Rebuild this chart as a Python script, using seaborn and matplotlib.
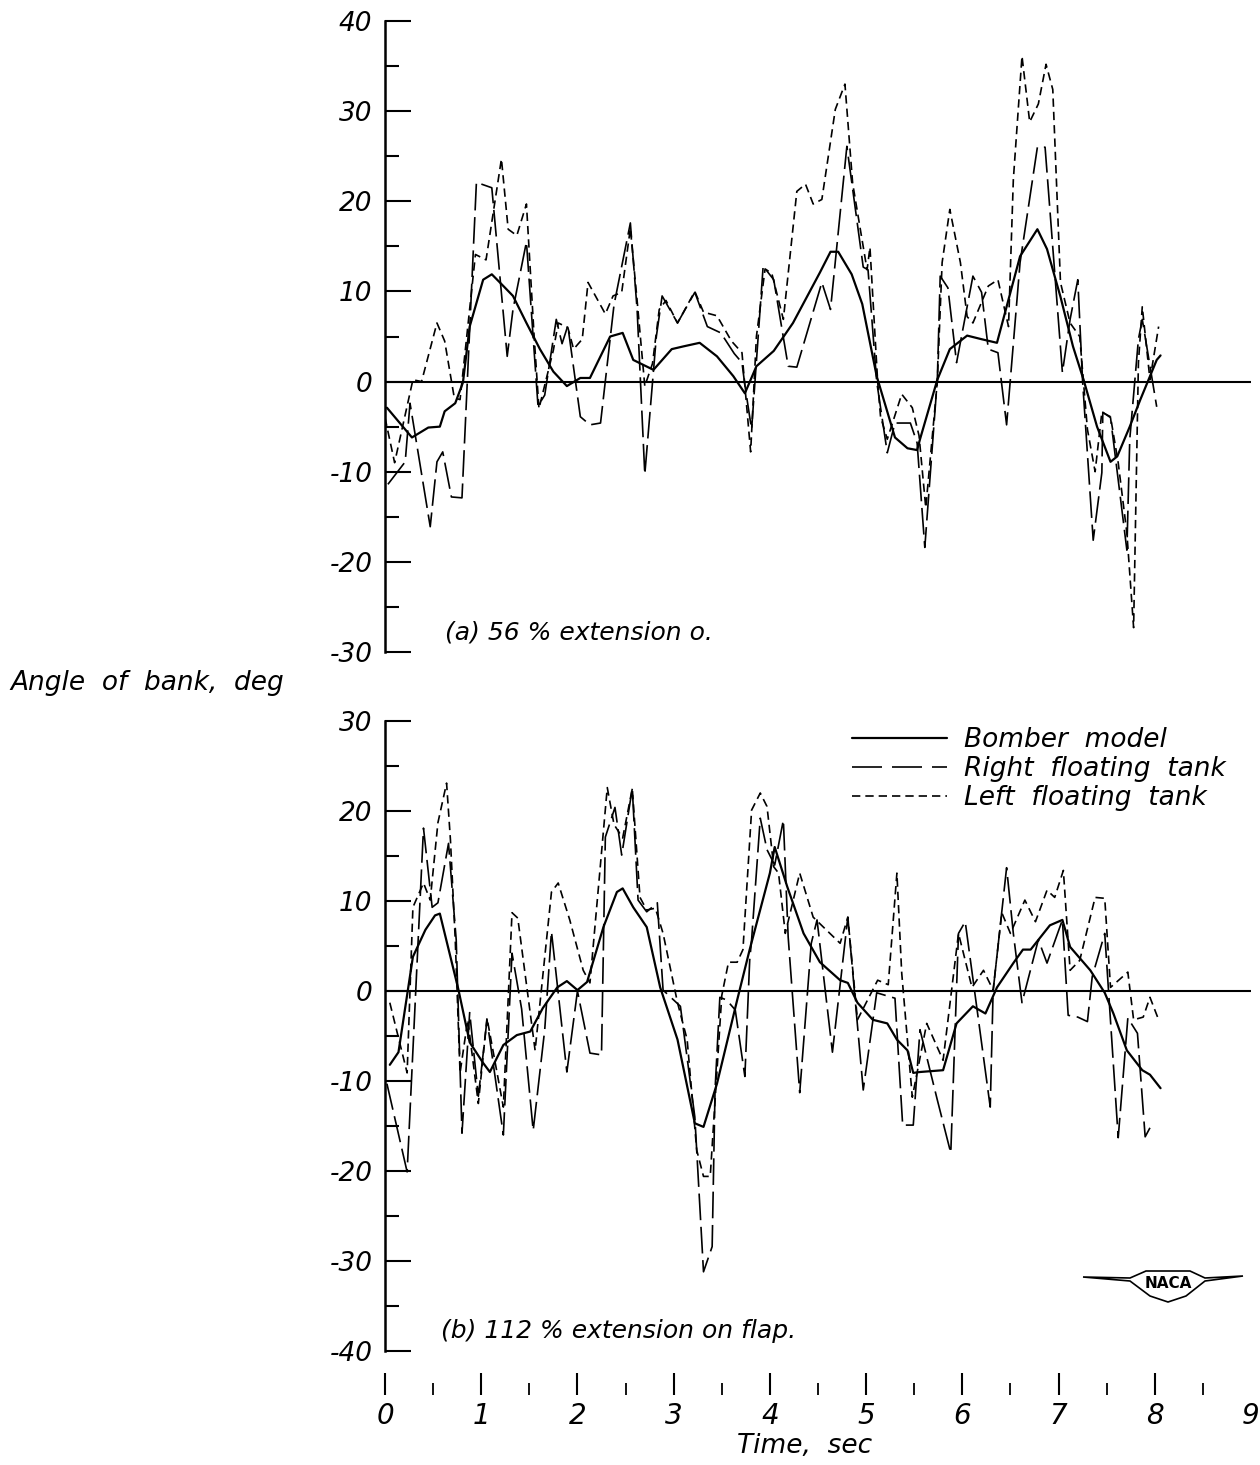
import numpy as np
import pandas as pd
import seaborn as sns
import matplotlib.pyplot as plt
from matplotlib.lines import Line2D
from matplotlib.patches import Polygon

# --- data (time in sec, angle of bank in deg) ---
# (a) 56 % extension
a_bomber_t = [0.02, 0.28, 0.45, 0.57, 0.62, 0.73, 0.81, 0.88, 1.02, 1.11, 1.23, 1.33, 1.47, 1.61,
              1.75, 1.89, 2.03, 2.13, 2.34, 2.47, 2.58, 2.79, 2.98, 3.10, 3.27, 3.45, 3.62, 3.74,
              3.86, 4.04, 4.24, 4.52, 4.63, 4.71, 4.85, 4.96, 5.11, 5.30, 5.43, 5.53, 5.56, 5.74,
              5.87, 6.05, 6.20, 6.36, 6.60, 6.78, 6.88, 7.02, 7.15, 7.26, 7.40, 7.54, 7.61, 7.74,
              7.85, 8.02, 8.06]
a_bomber_y = [-2.9, -6.2, -5.1, -5.0, -3.3, -2.4, -0.1, 6.1, 11.3, 11.9, 10.6, 9.5, 6.5, 3.6,
              1.1, -0.5, 0.4, 0.4, 5.0, 5.4, 2.4, 1.3, 3.6, 3.9, 4.3, 2.8, 0.6, -1.3,
              1.7, 3.4, 6.5, 12.1, 14.4, 14.4, 11.9, 8.6, 0.6, -6.2, -7.4, -7.6, -6.4, 0.2,
              3.6, 5.1, 4.7, 4.3, 13.9, 16.9, 14.7, 9.4, 3.9, 0.2, -5.0, -8.9, -8.3, -5.0,
              -2.0, 2.4, 2.9]

a_right_t = [0.03, 0.21, 0.26, 0.47, 0.54, 0.60, 0.69, 0.80, 0.95, 1.11, 1.27, 1.33, 1.47, 1.59,
             1.66, 1.78, 1.84, 1.90, 2.03, 2.13, 2.24, 2.38, 2.55, 2.62, 2.70, 2.82, 2.88, 3.04,
             3.22, 3.35, 3.49, 3.63, 3.71, 3.74, 3.81, 3.93, 4.04, 4.19, 4.28, 4.54, 4.63, 4.80,
             4.97, 5.02, 5.11, 5.22, 5.30, 5.46, 5.53, 5.61, 5.74, 5.77, 5.85, 5.94, 6.11, 6.20,
             6.27, 6.37, 6.46, 6.60, 6.78, 6.86, 7.04, 7.12, 7.20, 7.25, 7.36, 7.45, 7.46, 7.54,
             7.71, 7.74, 7.83, 7.87, 8.02]
a_right_y = [-11.4, -8.9, -2.4, -16.1, -8.9, -7.8, -12.8, -12.9, 22.1, 21.5, 2.8, 8.0, 15.5, -2.7,
             -1.5, 6.9, 4.2, 6.2, -3.9, -4.8, -4.6, 8.5, 17.6, 8.0, -10.3, 5.0, 9.5, 6.5,
             9.9, 6.1, 5.4, 3.1, 2.1, -0.4, -5.3, 12.8, 11.3, 1.7, 1.6, 11.0, 8.0, 26.1,
             12.7, 12.4, 0.0, -7.9, -4.6, -4.6, -6.8, -18.4, 0.2, 11.7, 10.4, 2.1, 11.7, 9.9,
             3.6, 3.2, -4.8, 13.2, 26.0, 26.0, 1.0, 6.9, 11.3, 0.0, -17.6, -10.1, -3.4, -4.0,
             -18.7, -6.4, 4.7, 6.9, -2.8]

a_left_t = [0.00, 0.10, 0.29, 0.38, 0.54, 0.62, 0.72, 0.78, 0.94, 1.05, 1.21, 1.28, 1.37, 1.47,
            1.55, 1.60, 1.75, 1.80, 1.90, 1.96, 2.05, 2.11, 2.29, 2.37, 2.46, 2.55, 2.62, 2.70,
            2.78, 2.85, 2.92, 3.04, 3.22, 3.31, 3.45, 3.60, 3.71, 3.80, 3.86, 3.95, 4.02, 4.14,
            4.28, 4.37, 4.45, 4.54, 4.68, 4.78, 4.86, 5.01, 5.04, 5.12, 5.15, 5.22, 5.37, 5.48,
            5.55, 5.62, 5.74, 5.79, 5.87, 5.98, 6.05, 6.11, 6.27, 6.37, 6.48, 6.53, 6.62, 6.70,
            6.79, 6.87, 6.94, 7.02, 7.12, 7.22, 7.30, 7.38, 7.45, 7.54, 7.62, 7.71, 7.78, 7.83,
            7.87, 7.95, 8.04]
a_left_y = [-4.0, -9.0, 0.2, 0.0, 6.5, 4.5, -1.8, -2.0, 14.1, 13.5, 24.7, 16.9, 16.2, 19.7,
            5.0, -3.0, 3.5, 6.5, 6.0, 3.6, 4.7, 11.0, 7.5, 9.5, 9.9, 17.0, 9.0, -0.5,
            2.0, 8.0, 9.0, 6.5, 10.0, 7.7, 7.3, 4.5, 3.2, -7.8, 5.0, 12.5, 12.0, 6.9,
            21.1, 21.9, 19.7, 20.2, 30.2, 33.0, 22.0, 12.4, 14.9, 0.0, -3.9, -6.4, -1.4, -2.9,
            -6.0, -14.0, 0.0, 13.2, 19.1, 13.2, 7.2, 6.5, 10.6, 11.3, 6.1, 22.4, 36.1, 28.8,
            30.8, 35.2, 32.4, 11.0, 6.5, 5.0, -5.3, -10.0, -3.4, -3.9, -9.0, -16.8, -27.3, 2.1,
            8.3, 0.2, 6.1]

# (b) 112 % extension
b_bomber_t = [0.05, 0.14, 0.29, 0.42, 0.52, 0.57, 0.76, 0.88, 1.02, 1.09, 1.23, 1.37, 1.51, 1.64,
              1.79, 1.89, 2.00, 2.10, 2.27, 2.41, 2.47, 2.58, 2.72, 2.86, 3.04, 3.22, 3.31, 3.45,
              3.66, 3.79, 4.00, 4.05, 4.18, 4.35, 4.52, 4.73, 4.81, 4.91, 5.07, 5.22, 5.32, 5.43,
              5.49, 5.56, 5.80, 5.94, 6.11, 6.24, 6.36, 6.53, 6.63, 6.71, 6.91, 7.04, 7.12, 7.33,
              7.48, 7.57, 7.71, 7.87, 7.95, 8.06]
b_bomber_y = [-8.2, -6.8, 3.8, 6.8, 8.4, 8.6, 0.3, -5.7, -8.0, -9.0, -6.0, -4.9, -4.5, -1.9,
              0.4, 1.1, 0.1, 1.0, 7.1, 11.0, 11.4, 9.3, 7.1, 0.4, -5.4, -14.7, -15.1, -10.3,
              -1.0, 4.6, 13.1, 16.0, 11.6, 6.4, 3.2, 1.2, 0.9, -1.3, -3.2, -3.6, -5.4, -6.6,
              -9.1, -9.0, -8.8, -3.6, -1.7, -2.5, 0.4, 3.1, 4.6, 4.6, 7.3, 7.9, 4.9, 2.3,
              -0.2, -2.5, -6.6, -8.8, -9.3, -10.8]

b_right_t = [0.02, 0.23, 0.40, 0.49, 0.55, 0.66, 0.74, 0.80, 0.88, 0.97, 1.06, 1.23, 1.32, 1.42,
             1.54, 1.66, 1.73, 1.89, 2.00, 2.13, 2.25, 2.29, 2.39, 2.46, 2.57, 2.63, 2.72, 2.83,
             2.89, 3.07, 3.22, 3.31, 3.40, 3.43, 3.48, 3.55, 3.64, 3.74, 3.79, 3.81, 3.90, 3.97,
             4.05, 4.14, 4.19, 4.31, 4.43, 4.49, 4.65, 4.81, 4.97, 5.11, 5.30, 5.38, 5.49, 5.56,
             5.74, 5.88, 5.96, 6.03, 6.29, 6.32, 6.46, 6.53, 6.62, 6.79, 6.88, 7.04, 7.10, 7.20,
             7.30, 7.35, 7.48, 7.62, 7.72, 7.82, 7.90, 7.95]
b_right_y = [-10.3, -20.1, 18.1, 9.3, 9.8, 16.4, 5.7, -15.8, -2.4, -11.7, -3.2, -16.0, 4.2, -2.0,
             -15.5, -4.3, 6.6, -9.0, 0.0, -6.9, -7.1, 17.1, 20.4, 15.1, 22.5, 10.1, 8.8, 9.8,
             0.1, -1.7, -14.0, -31.2, -28.4, -11.0, -0.7, -1.0, -2.1, -9.5, 3.4, 5.7, 19.2, 15.7,
             14.0, 19.0, 6.0, -11.3, 5.3, 7.9, -6.8, 8.2, -11.0, -0.2, -0.8, -14.9, -14.9, -4.3,
             -12.1, -18.0, 6.4, 7.7, -12.9, 0.0, 13.7, 6.4, -1.3, 5.7, 3.1, 7.9, -2.7, -2.9,
             -3.4, 1.6, 6.4, -16.3, -3.0, -4.7, -16.2, -15.2]

b_left_t = [0.05, 0.23, 0.29, 0.40, 0.47, 0.55, 0.64, 0.68, 0.73, 0.78, 0.86, 0.97, 1.06, 1.23,
            1.32, 1.38, 1.56, 1.73, 1.80, 1.92, 2.06, 2.13, 2.31, 2.38, 2.47, 2.57, 2.65, 2.72,
            2.81, 2.89, 3.04, 3.14, 3.24, 3.31, 3.38, 3.50, 3.57, 3.66, 3.72, 3.81, 3.90, 3.97,
            4.04, 4.09, 4.16, 4.31, 4.45, 4.73, 4.81, 4.91, 5.12, 5.23, 5.32, 5.37, 5.48, 5.63,
            5.80, 5.96, 6.10, 6.22, 6.32, 6.41, 6.50, 6.65, 6.76, 6.88, 6.96, 7.05, 7.12, 7.22,
            7.38, 7.48, 7.54, 7.72, 7.78, 7.88, 7.95, 8.04]
b_left_y = [-1.3, -9.1, 9.3, 12.0, 10.1, 18.7, 23.1, 16.8, 5.7, -9.1, -3.2, -12.5, -3.0, -12.9,
            8.7, 8.1, -6.6, 11.0, 12.0, 7.9, 2.3, 0.9, 22.6, 18.5, 17.0, 22.5, 10.4, 9.0,
            9.2, 6.4, -1.3, -5.4, -17.7, -20.6, -20.6, -0.5, 3.2, 3.2, 4.6, 20.1, 22.0, 20.5,
            13.8, 13.1, 6.4, 13.1, 8.2, 5.3, 8.2, -3.2, 1.2, 0.7, 13.1, 2.0, -11.8, -3.6,
            -7.7, 6.4, 0.4, 2.3, 0.1, 8.7, 6.4, 10.1, 7.7, 11.2, 10.4, 13.4, 2.3, 3.4,
            10.4, 10.3, 0.4, 2.1, -3.2, -2.9, -0.7, -3.2]

series_names = ['Bomber  model', 'Right  floating  tank', 'Left  floating  tank']
x_ticks = list(range(10))
panel_a_text = '(a) 56 % extension o.'
panel_b_text = '(b) 112 % extension on flap.'


def to_frame(parts):
    rows = []
    for name, (t, y) in zip(series_names, parts):
        rows.append(pd.DataFrame({'t': t, 'angle': y, 'series': name}))
    return pd.concat(rows, ignore_index=True)


df_a = to_frame([(a_bomber_t, a_bomber_y), (a_right_t, a_right_y), (a_left_t, a_left_y)])
df_b = to_frame([(b_bomber_t, b_bomber_y), (b_right_t, b_right_y), (b_left_t, b_left_y)])

sns.set_style('white')
plt.rcParams['font.family'] = ['DejaVu Sans']
plt.rcParams['font.style'] = 'italic'
plt.rcParams['axes.unicode_minus'] = False
plt.rcParams['text.color'] = 'black'
plt.rcParams['xtick.color'] = 'black'
plt.rcParams['ytick.color'] = 'black'
plt.rcParams['axes.labelcolor'] = 'black'

dash_map = {series_names[0]: None, series_names[1]: (16, 4), series_names[2]: (5, 3)}
width_map = {series_names[0]: 1.6, series_names[1]: 1.2, series_names[2]: 1.2}

fig = plt.figure(figsize=(12.6, 14.65), dpi=100)
W, H = 1260, 1465
left = 385 / W
width = (1251 - 385) / W
ax_a = fig.add_axes([left, 1 - 652 / H, width, (652 - 21) / H])
ax_b = fig.add_axes([left, 1 - 1351 / H, width, (1351 - 721) / H])

for ax, df, lims in [(ax_a, df_a, (-30, 40)), (ax_b, df_b, (-40, 30))]:
    for name in series_names:
        sub = df[df['series'] == name]
        sns.lineplot(data=sub, x='t', y='angle', ax=ax, color='black', estimator=None,
                     sort=False, lw=width_map[name], legend=False)
        if dash_map[name]:
            ax.lines[-1].set_dashes(dash_map[name])
    ax.axhline(0, color='black', lw=1.5, zorder=1)
    ax.set_xlim(0, 9)
    ax.set_ylim(*lims)
    ax.set_yticks(np.arange(lims[0], lims[1] + 1, 10))
    ax.set_yticks(np.arange(lims[0], lims[1] + 1, 5), minor=True)
    ax.set_xticks([])
    ax.tick_params(axis='y', which='major', direction='in', length=19, width=1.5,
                   labelsize=19, pad=9, left=True)
    ax.tick_params(axis='y', which='minor', direction='in', length=10, width=1.5, left=True)
    for s in ['top', 'right', 'bottom']:
        ax.spines[s].set_visible(False)
    ax.spines['left'].set_linewidth(1.8)
    ax.spines['left'].set_color('black')
    ax.set_xlabel('')
    ax.set_ylabel('')
    ax.patch.set_alpha(0)

ax_a.text(0.62, -28.6, panel_a_text, fontsize=18)
ax_b.text(0.58, -38.6, panel_b_text, fontsize=18)

# time axis drawn on its own, below panel (b)
ax_t = fig.add_axes([left, 1 - 1395 / H, width, 0.0005])
for s in ax_t.spines.values():
    s.set_visible(False)
ax_t.patch.set_alpha(0)
ax_t.set_xlim(0, 9)
ax_t.set_yticks([])
ax_t.set_xticks(x_ticks)
ax_t.set_xticks(np.arange(0.5, 9, 1.0), minor=True)
ax_t.set_xticklabels([str(v) for v in x_ticks])
ax_t.tick_params(axis='x', which='major', direction='in', length=16, width=1.5,
                 labelsize=20, pad=5, bottom=True)
ax_t.tick_params(axis='x', which='minor', direction='in', length=9, width=1.3, bottom=True)
ax_t.xaxis.get_major_ticks()[-1].tick1line.set_visible(False)

fig.text(805 / W, 1 - 1446 / H, 'Time,  sec', fontsize=19, ha='center', va='center')
fig.text(10 / W, 1 - 683 / H, 'Angle  of  bank,  deg', fontsize=19, va='center', ha='left')

handles = [Line2D([], [], color='black', lw=width_map[n]) for n in series_names]
handles[1].set_dashes((18, 6))
handles[2].set_dashes((5, 3))
ax_b.legend(handles, series_names, loc='upper left', frameon=False, fontsize=19,
            bbox_to_anchor=(852 / W, 1 - 727 / H), bbox_transform=fig.transFigure,
            borderpad=0, borderaxespad=0, handlelength=3.6, handletextpad=0.65,
            labelspacing=0.12)

# NACA wing mark
wing = [(1083, 1277), (1130, 1281), (1150, 1296), (1168, 1302), (1186, 1296), (1205, 1281),
        (1243, 1276), (1205, 1278), (1190, 1271), (1146, 1271), (1130, 1278)]
fig.patches.append(Polygon([(x / W, 1 - y / H) for x, y in wing], closed=True, fill=False,
                           lw=1.2, edgecolor='black', transform=fig.transFigure))
fig.text(1168 / W, 1 - 1284 / H, 'NACA', fontsize=11, ha='center', va='center',
         style='normal', weight='bold')

fig.savefig('out.png', dpi=100, facecolor='white')
